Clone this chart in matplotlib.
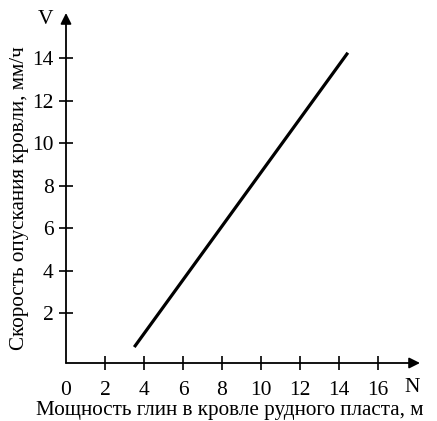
import matplotlib
matplotlib.use("Agg")
import matplotlib.pyplot as plt

# Data
x_vals = [3.5, 14.45]
v_vals = [0.4, 14.25]
x_ticks = [0, 2, 4, 6, 8, 10, 12, 14, 16]
y_ticks = [2, 4, 6, 8, 10, 12, 14]
x_label = "Мощность глин в кровле рудного пласта, м"
y_label = "Скорость опускания кровли, мм/ч"

plt.rcParams['font.family'] = ['Liberation Serif', 'DejaVu Serif']

W, H = 437, 421
fig = plt.figure(figsize=(W / 100, H / 100), dpi=100)
left_px, right_px, top_px, bottom_px = 66, 420, 13, 363
ax = fig.add_axes([left_px / W, 1 - bottom_px / H, (right_px - left_px) / W, (bottom_px - top_px) / H])
ax.set_xlim(0, 18.15)
ax.set_ylim(-0.35, 16.12)

for s in ax.spines.values():
    s.set_visible(False)

# axes with arrows
ax.annotate('', xy=(1.0, 0), xytext=(0, 0), xycoords='axes fraction',
            arrowprops=dict(arrowstyle='-|>', color='black', lw=1.3, mutation_scale=16, shrinkA=0, shrinkB=0))
ax.annotate('', xy=(0, 1.0), xytext=(0, 0), xycoords='axes fraction',
            arrowprops=dict(arrowstyle='-|>', color='black', lw=1.3, mutation_scale=16, shrinkA=0, shrinkB=0))

ax.plot(x_vals, v_vals, color='black', lw=2.3, solid_capstyle='butt')

ax.set_xticks(x_ticks)
ax.set_xticklabels([str(t) for t in x_ticks])
ax.set_yticks(y_ticks)
ax.set_yticklabels([str(t) for t in y_ticks])
ax.tick_params(axis='x', direction='inout', length=10, width=1.2, pad=8, labelsize=15.5)
ax.tick_params(axis='y', direction='inout', length=10, width=1.2, pad=4, labelsize=15.5)
ax.xaxis.get_major_ticks()[0].tick1line.set_visible(False)

fig.text(412 / W, 1 - 388 / H, 'N', ha='center', va='center', fontsize=15.5)
fig.text(45 / W, 1 - 20 / H, 'V', ha='center', va='center', fontsize=15.5)
fig.text(230 / W, 1 - 410 / H, x_label, ha='center', va='center', fontsize=15.2)
fig.text(20 / W, 1 - 198 / H, y_label, ha='center', va='center', rotation=90, fontsize=15.2)

fig.savefig('out.png', dpi=100)
